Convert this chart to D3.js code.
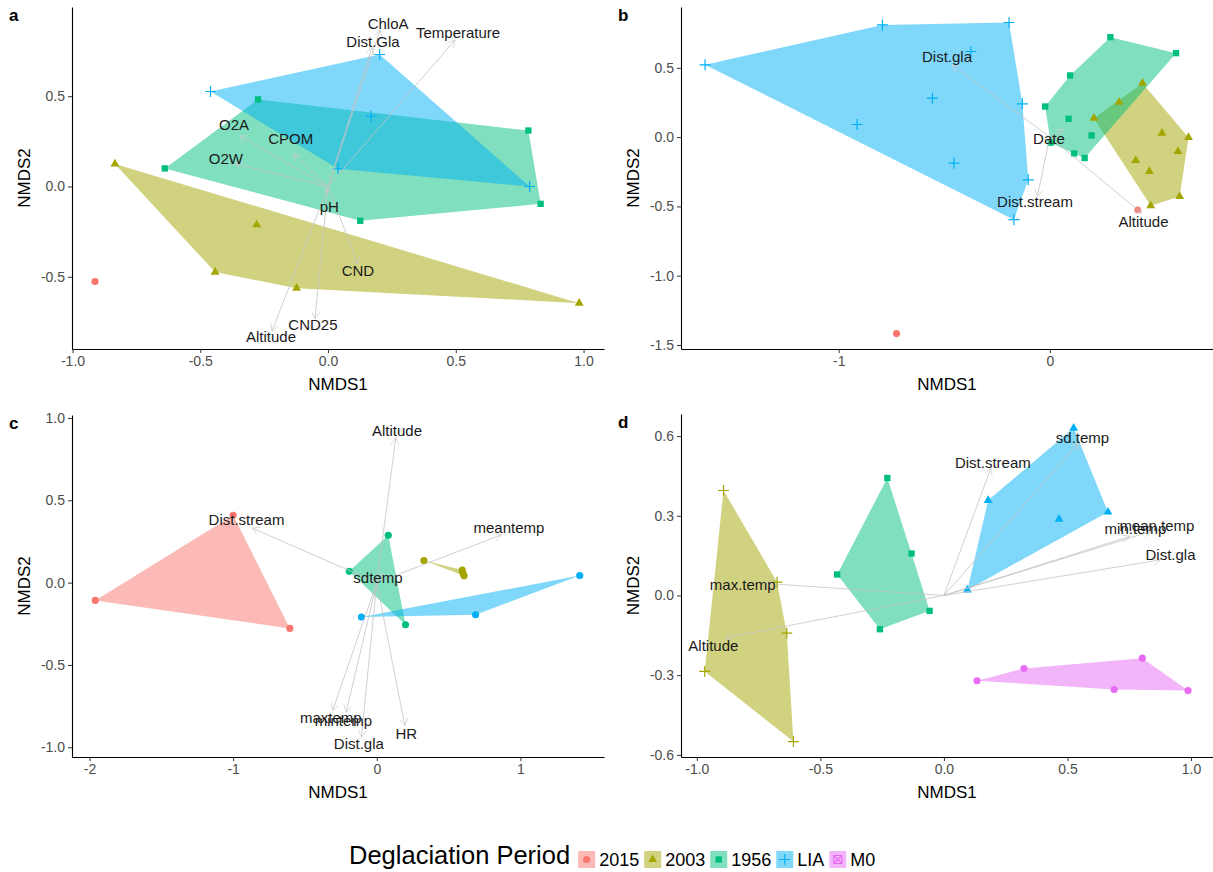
<!DOCTYPE html>
<html>
<head>
<meta charset="utf-8">
<script src="https://cdn.jsdelivr.net/npm/d3@7"></script>
<style>
  body { margin: 0; background: #fff; }
  svg { font-family: "Liberation Sans", Arial, sans-serif; }
</style>
</head>
<body>
<svg id="chart" width="1213" height="872"></svg>
<script>
// deglaciation periods and their ggplot hue colours
const periods = ["2015", "2003", "1956", "LIA", "M0"];
const periodColors = ["#F8766D", "#A3A500", "#00BF7D", "#00B0F6", "#E76BF3"];

// site scores: [period, NMDS1, NMDS2]
const sitesA = [
  ["2015", -0.912, -0.526],
  ["2003", -0.834, 0.125], ["2003", -0.279, -0.212], ["2003", -0.442, -0.474], ["2003", -0.123, -0.563], ["2003", 0.983, -0.646],
  ["1956", -0.639, 0.100], ["1956", -0.274, 0.482], ["1956", 0.784, 0.310], ["1956", 0.832, -0.096], ["1956", 0.126, -0.190],
  ["LIA", -0.460, 0.526], ["LIA", 0.202, 0.731], ["LIA", 0.168, 0.389], ["LIA", 0.039, 0.098], ["LIA", 0.789, 0.000]
];
const sitesB = [
  ["2015", 0.417, -0.526], ["2015", -0.726, -1.418],
  ["2003", 0.439, 0.389], ["2003", 0.328, 0.252], ["2003", 0.209, 0.137], ["2003", 0.531, 0.029], ["2003", 0.657, -0.002],
  ["2003", 0.607, -0.103], ["2003", 0.407, -0.168], ["2003", 0.472, -0.248], ["2003", 0.615, -0.428], ["2003", 0.478, -0.495],
  ["1956", 0.287, 0.721], ["1956", 0.598, 0.606], ["1956", 0.096, 0.445], ["1956", -0.022, 0.221], ["1956", 0.089, 0.132],
  ["1956", 0.198, 0.012], ["1956", 0.115, -0.118], ["1956", 0.165, -0.151], ["1956", 0.004, -0.040],
  ["LIA", -1.633, 0.522], ["LIA", -0.793, 0.810], ["LIA", -0.193, 0.827], ["LIA", -0.130, 0.240], ["LIA", -0.102, -0.308],
  ["LIA", -0.170, -0.596], ["LIA", -0.556, 0.281], ["LIA", -0.913, 0.091], ["LIA", -0.454, -0.188], ["LIA", -0.374, 0.618]
];
const sitesC = [
  ["2015", -1.960, -0.108], ["2015", -1.000, 0.409], ["2015", -0.605, -0.278],
  ["2003", 0.328, 0.134], ["2003", 0.595, 0.077], ["2003", 0.600, 0.057], ["2003", 0.608, 0.041],
  ["1956", 0.080, 0.287], ["1956", -0.192, 0.069], ["1956", 0.200, -0.256],
  ["LIA", -0.107, -0.209], ["LIA", 0.688, -0.195], ["LIA", 1.413, 0.043]
];
const sitesD = [
  ["2003", -0.892, 0.395], ["2003", -0.675, 0.050], ["2003", -0.636, -0.142], ["2003", -0.968, -0.286], ["2003", -0.609, -0.550],
  ["1956", -0.229, 0.442], ["1956", -0.131, 0.158], ["1956", -0.058, -0.058], ["1956", -0.259, -0.127], ["1956", -0.432, 0.079],
  ["LIA", 0.525, 0.630], ["LIA", 0.664, 0.314], ["LIA", 0.466, 0.287], ["LIA", 0.179, 0.358], ["LIA", 0.095, 0.021],
  ["M0", 0.134, -0.321], ["M0", 0.324, -0.275], ["M0", 0.803, -0.236], ["M0", 0.988, -0.358], ["M0", 0.689, -0.354]
];

// env vectors: [name, arrow x, arrow y, label x, label y]
const vectorsA = [
  ["ChloA", 0.204, 0.867, 0.235, 0.900],
  ["Dist.Gla", 0.172, 0.772, 0.176, 0.800],
  ["Temperature", 0.497, 0.811, 0.509, 0.850],
  ["O2A", -0.345, 0.280, -0.368, 0.341],
  ["CPOM", -0.136, 0.180, -0.146, 0.264],
  ["O2W", -0.364, 0.125, -0.400, 0.153],
  ["pH", -0.004, -0.040, 0.005, -0.110],
  ["CND", 0.117, -0.430, 0.117, -0.467],
  ["CND25", -0.051, -0.733, -0.059, -0.767],
  ["Altitude", -0.219, -0.800, -0.223, -0.830]
];
const vectorsB = [
  ["Dist.gla", -0.463, 0.522, -0.487, 0.582],
  ["Date", 0.065, 0.053, -0.004, -0.012],
  ["Dist.stream", -0.059, -0.428, -0.070, -0.464],
  ["Altitude", 0.435, -0.548, 0.444, -0.608]
];
const vectorsC = [
  ["Altitude", 0.133, 0.880, 0.141, 0.925],
  ["Dist.stream", -0.867, 0.331, -0.907, 0.382],
  ["meantemp", 0.867, 0.290, 0.920, 0.335],
  ["sdtemp", 0.040, 0.057, 0.008, 0.030],
  ["maxtemp", -0.307, -0.776, -0.320, -0.817],
  ["mintemp", -0.213, -0.787, -0.232, -0.837],
  ["Dist.gla", -0.107, -0.939, -0.125, -0.980],
  ["HR", 0.195, -0.868, 0.205, -0.919]
];
const vectorsD = [
  ["sd.temp", 0.545, 0.574, 0.561, 0.596],
  ["Dist.stream", 0.190, 0.479, 0.198, 0.501],
  ["mean.temp", 0.838, 0.241, 0.862, 0.262],
  ["min.temp", 0.751, 0.222, 0.775, 0.250],
  ["Dist.gla", 0.877, 0.134, 0.917, 0.153],
  ["max.temp", -0.720, 0.045, -0.814, 0.040],
  ["Altitude", -0.885, -0.160, -0.933, -0.190]
];

// axis ticks
const ticksAx = [-1, -0.5, 0, 0.5, 1], ticksAy = [-0.5, 0, 0.5];
const ticksBx = [-1, 0], ticksBy = [-1.5, -1, -0.5, 0, 0.5];
const ticksCx = [-2, -1, 0, 1], ticksCy = [-1, -0.5, 0, 0.5, 1];
const ticksDx = [-1, -0.5, 0, 0.5, 1], ticksDy = [-0.6, -0.3, 0, 0.3, 0.6];

const svg = d3.select("#chart");
const color = d3.scaleOrdinal(periods, periodColors);

const panels = [
  {tag: "a", sites: sitesA, vectors: vectorsA, tx: ticksAx, ty: ticksAy, xf: ".1f", yf: ".1f",
   box: [72, 604, 7, 349], xd: [-1.002, 1.080], yd: [-0.9, 0.994],
   shapes: {"2015": "circle", "2003": "triangle", "1956": "square", "LIA": "plus"}},
  {tag: "b", sites: sitesB, vectors: vectorsB, tx: ticksBx, ty: ticksBy, xf: "d", yf: ".1f",
   box: [681, 1213, 7, 349], xd: [-1.747, 0.773], yd: [-1.529, 0.939],
   shapes: {"2015": "circle", "2003": "triangle", "1956": "square", "LIA": "plus"}},
  {tag: "c", sites: sitesC, vectors: vectorsC, tx: ticksCx, ty: ticksCy, xf: "d", yf: ".1f",
   box: [72, 604, 415, 757], xd: [-2.122, 1.582], yd: [-1.059, 1.018],
   shapes: {"2015": "circle", "2003": "circle", "1956": "circle", "LIA": "circle"}},
  {tag: "d", sites: sitesD, vectors: vectorsD, tx: ticksDx, ty: ticksDy, xf: ".1f", yf: ".1f",
   box: [681, 1213, 414, 757], xd: [-1.064, 1.089], yd: [-0.608, 0.683],
   shapes: {"2003": "plus", "1956": "square", "LIA": "triangle", "M0": "circle"}}
];

function symbolPath(shape) {
  if (shape === "plus") return "M-5.5,0H5.5M0,-5.5V5.5";
  if (shape === "boxcross") return "M-4,-4H4V4H-4ZM-4,-4L4,4M4,-4L-4,4";
  const t = {circle: d3.symbolCircle, triangle: d3.symbolTriangle, square: d3.symbolSquare}[shape];
  const size = {circle: 40, triangle: 34, square: 40}[shape];
  return d3.symbol(t, size)();
}
const stroked = s => s === "plus" || s === "boxcross";
const fmtTick = f => v => d3.format(f)(v).replace("\u2212", "-");

panels.forEach(p => {
  const [l, r, t, b] = p.box;
  const x = d3.scaleLinear().domain(p.xd).range([l, r]);
  const y = d3.scaleLinear().domain(p.yd).range([b, t]);
  const g = svg.append("g");

  // hulls
  const byPeriod = d3.group(p.sites, d => d[0]);
  periods.forEach(per => {
    const pts = byPeriod.get(per);
    if (!pts || pts.length < 3) return;
    const hull = d3.polygonHull(pts.map(d => [x(d[1]), y(d[2])]));
    g.append("path")
      .attr("d", "M" + hull.join("L") + "Z")
      .attr("fill", color(per))
      .attr("fill-opacity", 0.5);
  });

  // points
  g.selectAll(".pt")
    .data(p.sites)
    .join("path")
      .attr("transform", d => `translate(${x(d[1])},${y(d[2])})`)
      .attr("d", d => symbolPath(p.shapes[d[0]]))
      .attr("fill", d => stroked(p.shapes[d[0]]) ? "none" : color(d[0]))
      .attr("stroke", d => stroked(p.shapes[d[0]]) ? color(d[0]) : "none")
      .attr("stroke-width", 1.2);

  // vectors
  const vg = g.append("g").attr("stroke", "#c4c4c4").attr("stroke-width", 0.8).attr("fill", "none");
  p.vectors.forEach(v => {
    const x0 = x(0), y0 = y(0), x1 = x(v[1]), y1 = y(v[2]);
    vg.append("line").attr("x1", x0).attr("y1", y0).attr("x2", x1).attr("y2", y1);
    const ang = Math.atan2(y1 - y0, x1 - x0), len = 8, spread = Math.PI / 6;
    const h1 = [x1 - len * Math.cos(ang - spread), y1 - len * Math.sin(ang - spread)];
    const h2 = [x1 - len * Math.cos(ang + spread), y1 - len * Math.sin(ang + spread)];
    vg.append("path").attr("d", `M${h1}L${x1},${y1}L${h2}`).attr("stroke", "#d0d0d0");
  });
  g.append("g")
    .selectAll("text")
    .data(p.vectors)
    .join("text")
      .attr("x", d => x(d[3]))
      .attr("y", d => y(d[4]))
      .attr("dy", "0.36em")
      .attr("text-anchor", "middle")
      .attr("font-size", 15)
      .attr("fill", "#1a1a1a")
      .text(d => d[0]);

  // axes
  const xAxis = g.append("g")
    .attr("transform", `translate(0,${b})`)
    .call(d3.axisBottom(x).tickValues(p.tx).tickFormat(fmtTick(p.xf)).tickSize(4).tickPadding(3).tickSizeOuter(0));
  const yAxis = g.append("g")
    .attr("transform", `translate(${l},0)`)
    .call(d3.axisLeft(y).tickValues(p.ty).tickFormat(fmtTick(p.yf)).tickSize(4).tickPadding(3).tickSizeOuter(0));
  [xAxis, yAxis].forEach(a => {
    a.select(".domain").attr("stroke", "#000").attr("stroke-width", 1.1);
    a.selectAll(".tick line").attr("stroke", "#333");
    a.selectAll(".tick text").attr("fill", "#4d4d4d").attr("font-size", 14).attr("font-family", null);
  });

  g.append("text")
    .attr("x", (l + r) / 2)
    .attr("y", b + 41)
    .attr("text-anchor", "middle")
    .attr("font-size", 17)
    .text("NMDS1");
  g.append("text")
    .attr("transform", `translate(${l - 42},${(t + b) / 2}) rotate(-90)`)
    .attr("text-anchor", "middle")
    .attr("font-size", 17)
    .text("NMDS2");
  g.append("text")
    .attr("x", l - 63)
    .attr("y", t + 14)
    .attr("font-size", 17)
    .attr("font-weight", "bold")
    .text(p.tag);
});

// legend
const legendShapes = ["circle", "triangle", "square", "plus", "boxcross"];
const lg = svg.append("g");
const title = lg.append("text")
  .attr("x", 349).attr("y", 864)
  .attr("font-size", 25.5)
  .text("Deglaciation Period");
let lx = 349 + title.node().getComputedTextLength() + 8;
periods.forEach((per, i) => {
  lg.append("rect")
    .attr("x", lx).attr("y", 851).attr("width", 17).attr("height", 17)
    .attr("fill", color(per)).attr("fill-opacity", 0.5);
  const s = legendShapes[i];
  lg.append("path")
    .attr("transform", `translate(${lx + 8.5},${859.5})`)
    .attr("d", symbolPath(s))
    .attr("fill", stroked(s) ? "none" : color(per))
    .attr("stroke", stroked(s) ? color(per) : "none")
    .attr("stroke-width", 1.1);
  const tx = lg.append("text")
    .attr("x", lx + 21).attr("y", 866)
    .attr("font-size", 18)
    .text(per);
  lx += 21 + tx.node().getComputedTextLength() + 5;
});
</script>
</body>
</html>
